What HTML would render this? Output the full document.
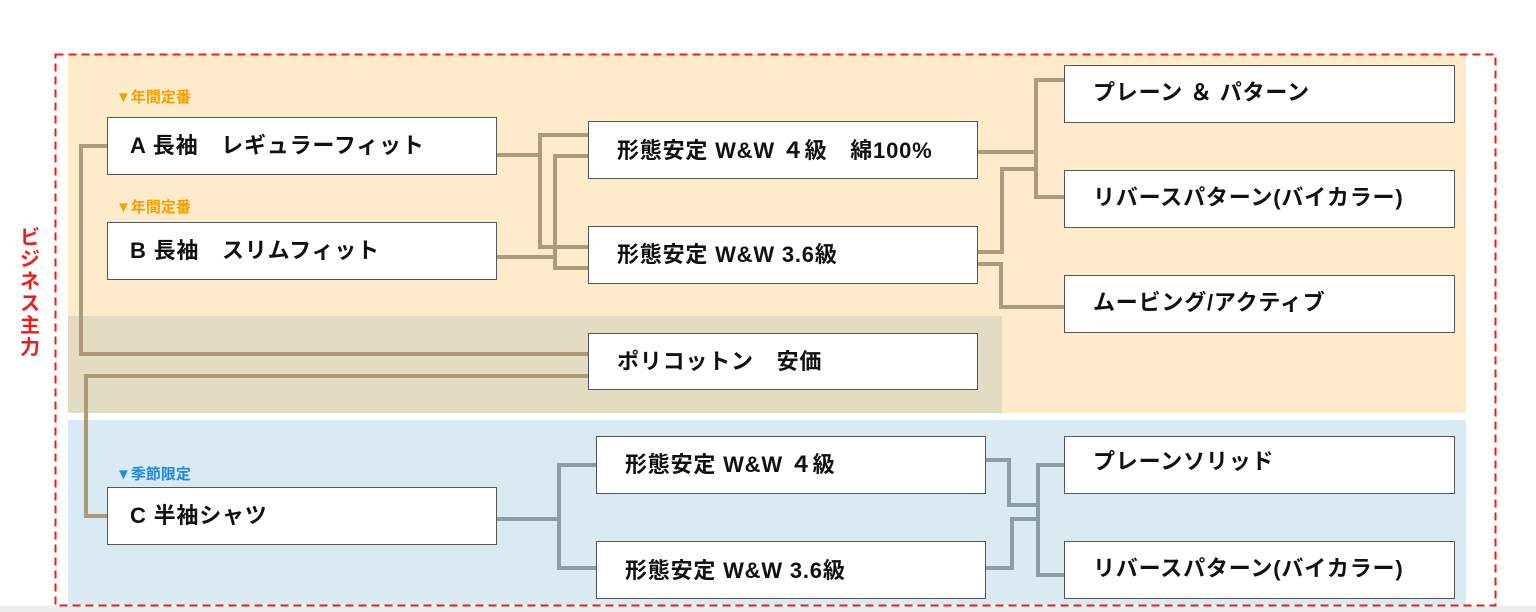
<!DOCTYPE html>
<html><head><meta charset="utf-8"><style>
html,body{margin:0;padding:0;background:#fff;}
svg{display:block;}
text{font-family:"Liberation Sans","Noto Sans CJK JP",sans-serif;}
</style></head><body>
<svg width="1536" height="612" viewBox="0 0 1536 612" xmlns="http://www.w3.org/2000/svg">
<rect x="0" y="606" width="1536" height="6" fill="#eeeeee"/>
<rect x="68" y="54" width="1398" height="359" fill="#fdebcc"/>
<rect x="68" y="316" width="934" height="97" fill="#e2dcc2"/>
<rect x="68" y="420" width="1398" height="185" fill="#d9eaf2"/>
<rect x="55.5" y="54.5" width="1440" height="551" fill="none" stroke="#ee1c1c" stroke-width="2" stroke-dasharray="8,5"/>
<g font-size="20" font-weight="bold" fill="#ee1c1c">
<text x="30" y="244" text-anchor="middle">ビ</text>
<text x="30" y="266" text-anchor="middle">ジ</text>
<text x="30" y="288" text-anchor="middle">ネ</text>
<text x="30" y="310" text-anchor="middle">ス</text>
<text x="30" y="332" text-anchor="middle">主</text>
<text x="30" y="354" text-anchor="middle">力</text>
</g>
<g font-size="15" font-weight="bold">
<text x="116" y="102" fill="#f5a000">▼年間定番</text>
<text x="116" y="212" fill="#f5a000">▼年間定番</text>
<text x="116" y="479" fill="#1e88e5">▼季節限定</text>
</g>
<g fill="none" stroke="#ad9a78" stroke-width="4">
<polyline points="107,146 81,146 81,354 588,354"/>
<polyline points="588,376 86,376 86,516 107,516"/>
<polyline points="496,155 540,155"/>
<polyline points="588,135 540,135 540,247 588,247"/>
<polyline points="496,257 555,257"/>
<polyline points="588,156 555,156 555,268 588,268"/>
<polyline points="977,152 1036,152"/>
<polyline points="1064,80 1036,80 1036,197 1064,197"/>
<polyline points="977,252 1002,252 1002,169 1036,169"/>
<polyline points="977,264 1001,264 1001,307 1064,307"/>
</g>
<g fill="none" stroke="#8a9ea8" stroke-width="4">
<polyline points="496,519 559,519"/>
<polyline points="596,465 559,465 559,568 596,568"/>
<polyline points="985,460 1009,460 1009,505 1038,505"/>
<polyline points="985,568 1012,568 1012,519 1038,519"/>
<polyline points="1064,465 1038,465 1038,575 1064,575"/>
</g>
<g fill="#fff" stroke="#555" stroke-width="1">
<rect x="107.5" y="117.5" width="389" height="57"/>
<rect x="107.5" y="222.5" width="389" height="57"/>
<rect x="588.5" y="121.5" width="389" height="57"/>
<rect x="588.5" y="226.5" width="389" height="57"/>
<rect x="588.5" y="333.5" width="389" height="56"/>
<rect x="107.5" y="487.5" width="389" height="57"/>
<rect x="596.5" y="436.5" width="389" height="57"/>
<rect x="596.5" y="541.5" width="389" height="57"/>
<rect x="1064.5" y="65.5" width="390" height="57"/>
<rect x="1064.5" y="170.5" width="390" height="57"/>
<rect x="1064.5" y="275.5" width="390" height="57"/>
<rect x="1064.5" y="436.5" width="390" height="57"/>
<rect x="1064.5" y="541.5" width="390" height="57"/>
</g>
<g font-size="22" font-weight="bold" fill="#111" letter-spacing="0.8">
<text x="130" y="153">A 長袖　レギュラーフィット</text>
<text x="130" y="258">B 長袖　スリムフィット</text>
<text x="617" y="158">形態安定 W&amp;W ４級　綿100%</text>
<text x="617" y="262">形態安定 W&amp;W 3.6級</text>
<text x="617" y="369">ポリコットン　安価</text>
<text x="130" y="523">C 半袖シャツ</text>
<text x="625" y="472">形態安定 W&amp;W ４級</text>
<text x="625" y="578">形態安定 W&amp;W 3.6級</text>
<text x="1093" y="100">プレーン ＆ パターン</text>
<text x="1093" y="205">リバースパターン(バイカラー)</text>
<text x="1093" y="310">ムービング/アクティブ</text>
<text x="1093" y="469">プレーンソリッド</text>
<text x="1093" y="576">リバースパターン(バイカラー)</text>
</g>
</svg>
</body></html>
